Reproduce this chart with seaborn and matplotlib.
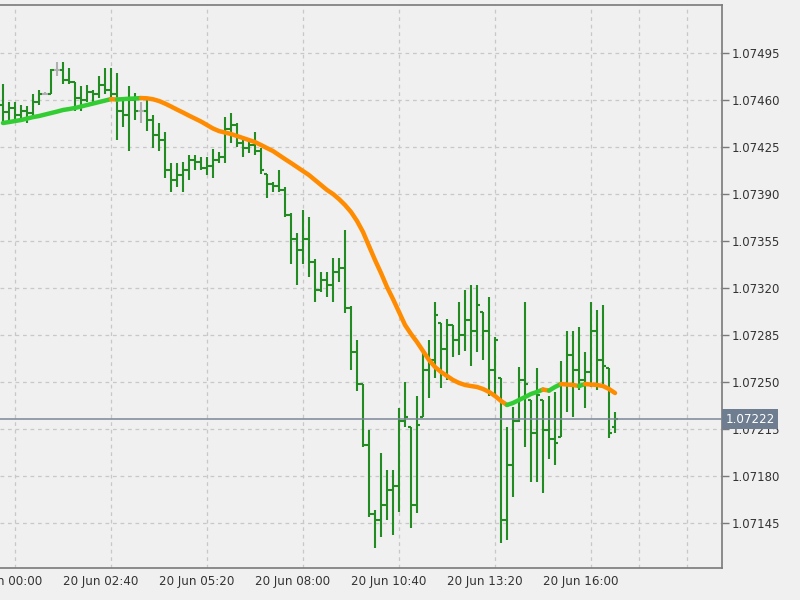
import numpy as np
import pandas as pd
import matplotlib.pyplot as plt
import seaborn as sns

# 10-minute bars, 20 Jun 01:00 .. 18:00
bar_open = [1.07456, 1.07451, 1.07454, 1.07449, 1.07452, 1.07450, 1.07458, 1.07464, 1.07464, 1.07482,
            1.07482, 1.07475, 1.07473, 1.07461, 1.07460, 1.07466, 1.07464, 1.07471, 1.07467, 1.07464,
            1.07452, 1.07449, 1.07460, 1.07452, 1.07452, 1.07445, 1.07434, 1.07430, 1.07408, 1.07400,
            1.07404, 1.07408, 1.07415, 1.07414, 1.07409, 1.07411, 1.07415, 1.07417, 1.07438, 1.07441,
            1.07428, 1.07424, 1.07426, 1.07422, 1.07405, 1.07397, 1.07396, 1.07393, 1.07374, 1.07356,
            1.07348, 1.07356, 1.07339, 1.07318, 1.07326, 1.07322, 1.07332, 1.07335, 1.07305, 1.07272,
            1.07248, 1.07203, 1.07151, 1.07147, 1.07158, 1.07169, 1.07172, 1.07221, 1.07216, 1.07158,
            1.07224, 1.07259, 1.07266, 1.07294, 1.07274, 1.07292, 1.07281, 1.07285, 1.07296, 1.07288,
            1.07302, 1.07288, 1.07259, 1.07253, 1.07147, 1.07188, 1.07221, 1.07251, 1.07236, 1.07212,
            1.07236, 1.07214, 1.07207, 1.07209, 1.07248, 1.07270, 1.07259, 1.07251, 1.07257, 1.07288,
            1.07266, 1.07260, 1.07216]
bar_high = [1.07472, 1.07458, 1.07458, 1.07456, 1.07455, 1.07464, 1.07467, 1.07466, 1.07483, 1.07488,
            1.07488, 1.07484, 1.07473, 1.07470, 1.07471, 1.07467, 1.07478, 1.07484, 1.07484, 1.07480,
            1.07460, 1.07470, 1.07465, 1.07458, 1.07462, 1.07449, 1.07443, 1.07436, 1.07413, 1.07413,
            1.07414, 1.07419, 1.07419, 1.07417, 1.07417, 1.07423, 1.07421, 1.07447, 1.07450, 1.07443,
            1.07430, 1.07430, 1.07436, 1.07424, 1.07405, 1.07399, 1.07408, 1.07395, 1.07376, 1.07361,
            1.07378, 1.07373, 1.07341, 1.07332, 1.07332, 1.07342, 1.07342, 1.07363, 1.07306, 1.07281,
            1.07248, 1.07214, 1.07154, 1.07197, 1.07184, 1.07184, 1.07230, 1.07250, 1.07216, 1.07239,
            1.07274, 1.07281, 1.07309, 1.07294, 1.07297, 1.07292, 1.07309, 1.07318, 1.07322, 1.07322,
            1.07302, 1.07313, 1.07283, 1.07253, 1.07216, 1.07231, 1.07261, 1.07309, 1.07236, 1.07260,
            1.07236, 1.07239, 1.07242, 1.07265, 1.07288, 1.07288, 1.07291, 1.07272, 1.07309, 1.07303,
            1.07307, 1.07260, 1.07227]
bar_low = [1.07441, 1.07443, 1.07443, 1.07445, 1.07443, 1.07449, 1.07456, 1.07464, 1.07464, 1.07478,
           1.07472, 1.07472, 1.07452, 1.07452, 1.07458, 1.07458, 1.07461, 1.07464, 1.07462, 1.07430,
           1.07440, 1.07422, 1.07445, 1.07443, 1.07437, 1.07424, 1.07422, 1.07402, 1.07391, 1.07395,
           1.07391, 1.07400, 1.07408, 1.07408, 1.07404, 1.07402, 1.07413, 1.07413, 1.07428, 1.07425,
           1.07417, 1.07420, 1.07419, 1.07405, 1.07387, 1.07391, 1.07391, 1.07373, 1.07338, 1.07322,
           1.07338, 1.07328, 1.07309, 1.07317, 1.07313, 1.07309, 1.07324, 1.07301, 1.07259, 1.07243,
           1.07201, 1.07149, 1.07126, 1.07134, 1.07147, 1.07136, 1.07153, 1.07216, 1.07141, 1.07152,
           1.07224, 1.07238, 1.07253, 1.07245, 1.07251, 1.07268, 1.07270, 1.07273, 1.07262, 1.07272,
           1.07266, 1.07239, 1.07238, 1.07130, 1.07132, 1.07164, 1.07220, 1.07201, 1.07175, 1.07175,
           1.07167, 1.07192, 1.07188, 1.07209, 1.07227, 1.07224, 1.07244, 1.07230, 1.07246, 1.07244,
           1.07246, 1.07208, 1.07212]
bar_close = [1.07451, 1.07454, 1.07449, 1.07452, 1.07450, 1.07458, 1.07464, 1.07464, 1.07482, 1.07482,
             1.07475, 1.07473, 1.07461, 1.07460, 1.07466, 1.07464, 1.07471, 1.07467, 1.07464, 1.07452,
             1.07449, 1.07460, 1.07452, 1.07452, 1.07445, 1.07434, 1.07430, 1.07408, 1.07400, 1.07404,
             1.07408, 1.07415, 1.07414, 1.07409, 1.07411, 1.07415, 1.07417, 1.07438, 1.07441, 1.07428,
             1.07424, 1.07426, 1.07422, 1.07408, 1.07397, 1.07396, 1.07393, 1.07374, 1.07356, 1.07348,
             1.07356, 1.07339, 1.07318, 1.07326, 1.07322, 1.07332, 1.07335, 1.07305, 1.07272, 1.07248,
             1.07203, 1.07151, 1.07147, 1.07158, 1.07169, 1.07172, 1.07221, 1.07224, 1.07158, 1.07218,
             1.07259, 1.07266, 1.07300, 1.07274, 1.07292, 1.07281, 1.07285, 1.07296, 1.07288, 1.07307,
             1.07288, 1.07259, 1.07281, 1.07147, 1.07188, 1.07221, 1.07251, 1.07248, 1.07212, 1.07240,
             1.07214, 1.07207, 1.07204, 1.07248, 1.07270, 1.07259, 1.07251, 1.07257, 1.07288, 1.07266,
             1.07262, 1.07212, 1.07222]
ma_value = [1.074427, 1.074434, 1.074442, 1.074449, 1.074460, 1.074471, 1.074479, 1.074490, 1.074501, 1.074512,
            1.074524, 1.074531, 1.074539, 1.074550, 1.074561, 1.074572, 1.074583, 1.074594, 1.074605, 1.074602,
            1.074605, 1.074608, 1.074610, 1.074613, 1.074611, 1.074604, 1.074591, 1.074572, 1.074550, 1.074527,
            1.074505, 1.074482, 1.074460, 1.074438, 1.074412, 1.074386, 1.074367, 1.074356, 1.074345, 1.074330,
            1.074315, 1.074300, 1.074285, 1.074263, 1.074240, 1.074218, 1.074188, 1.074158, 1.074129, 1.074099,
            1.074069, 1.074039, 1.074002, 1.073965, 1.073928, 1.073898, 1.073860, 1.073816, 1.073764, 1.073697,
            1.073615, 1.073510, 1.073406, 1.073309, 1.073205, 1.073115, 1.073019, 1.072922, 1.072855, 1.072795,
            1.072728, 1.072661, 1.072609, 1.072572, 1.072542, 1.072512, 1.072490, 1.072475, 1.072467, 1.072460,
            1.072445, 1.072423, 1.072393, 1.072356, 1.072326, 1.072341, 1.072363, 1.072385, 1.072408, 1.072423,
            1.072441, 1.072433, 1.072460, 1.072482, 1.072478, 1.072475, 1.072467, 1.072482, 1.072478, 1.072475,
            1.072467, 1.072445, 1.072415]
current_price = 1.07222
first_bar = "2023-06-20 01:00"
tick_times = ["2023-06-20 00:00", "2023-06-20 02:40", "2023-06-20 05:20", "2023-06-20 08:00",
              "2023-06-20 10:40", "2023-06-20 13:20", "2023-06-20 16:00"]
tick_labels = ["20 Jun 00:00", "20 Jun 02:40", "20 Jun 05:20", "20 Jun 08:00",
               "20 Jun 10:40", "20 Jun 13:20", "20 Jun 16:00"]
price_ticks = [1.07145, 1.07180, 1.07215, 1.07250, 1.07285, 1.07320,
               1.07355, 1.07390, 1.07425, 1.07460, 1.07495]

bg = "#F0F0F0"
bar_green = "#228B22"
doji_gray = "#B0B0B0"
ma_up = "#32CD32"
ma_down = "#FF8C00"
frame = "#7A7A7A"

sns.set_theme(style="white")
plt.rcParams["font.family"] = ["DejaVu Sans"]

df = pd.DataFrame({"open": bar_open, "high": bar_high, "low": bar_low,
                   "close": bar_close, "ma": ma_value})
df["bar"] = np.arange(len(df))

fig = plt.figure(figsize=(8, 6), dpi=100, facecolor=bg)
ax = fig.add_axes([0, 0.0533, 0.9025, 0.9383], facecolor=bg)

# OHLC bars
colors = np.where(df["open"] == df["close"], doji_gray, bar_green)
ax.vlines(df["bar"], df["low"], df["high"], colors=colors, lw=1.5, zorder=3)
ax.hlines(df["open"], df["bar"] - 0.45, df["bar"], colors=colors, lw=1.5, zorder=3)
ax.hlines(df["close"], df["bar"], df["bar"] + 0.45, colors=colors, lw=1.5, zorder=3)

# current price line
ax.axhline(current_price, color="#7D8799", lw=1.1, zorder=4)

# moving average, green when rising, orange when falling
step = np.sign(np.diff(df["ma"].values))
runs = []
start = 0
for k in range(1, len(step)):
    if step[k] != step[start]:
        runs.append((start, k, step[start]))
        start = k
runs.append((start, len(step), step[start]))
for s, e, d in runs:
    seg = df.iloc[s:e + 1]
    sns.lineplot(data=seg, x="bar", y="ma", color=ma_up if d > 0 else ma_down,
                 lw=3.2, ax=ax, estimator=None, sort=False, legend=False, zorder=5)

ax.set_xlim(-0.5, 119.83)
ax.set_ylim(1.071111, 1.075306)

# time axis
t0 = pd.Timestamp(first_bar)
tick_pos = [(pd.Timestamp(t) - t0) / pd.Timedelta("10min") for t in tick_times]
grid_pos = np.arange(tick_pos[0] + 8, 120, 8)
ax.set_xticks(grid_pos, minor=True)
ax.set_xticks([p for p in tick_pos if p >= -0.5])
ax.set_xticklabels([])
ax.tick_params(axis="x", which="major", length=5, width=1, color=frame, direction="out")
ax.tick_params(axis="x", which="minor", length=0)
for p, lab in zip(tick_pos, tick_labels):
    ax.text(p, -0.012, lab, transform=ax.get_xaxis_transform(), ha="left", va="top",
            fontsize=8.6, color="#333333", clip_on=False)

# price axis
ax.yaxis.tick_right()
ax.set_yticks(price_ticks)
ax.set_yticklabels([f"{v:.5f}" for v in price_ticks])
ax.tick_params(axis="y", length=5, width=1, color=frame, pad=2, labelsize=8.5, labelcolor="#333333")
ax.set_xlabel("")
ax.set_ylabel("")

ax.grid(True, which="minor", axis="x", color="#C8C8C8", lw=0.9, linestyle=(0, (3, 3)))
ax.grid(True, which="major", axis="y", color="#C8C8C8", lw=0.9, linestyle=(0, (3, 3)))
ax.grid(False, which="major", axis="x")

for side in ["top", "right", "bottom"]:
    ax.spines[side].set_color(frame)
    ax.spines[side].set_linewidth(1.2)
ax.spines["left"].set_visible(False)

ax.text(1.005, current_price, f"{current_price:.5f}", transform=ax.get_yaxis_transform(),
        ha="left", va="center", fontsize=8.6, color="white", clip_on=False, zorder=10,
        bbox=dict(boxstyle="square,pad=0.28", fc="#6E7E90", ec="none"))

fig.savefig("out.png", dpi=100, facecolor=bg)
